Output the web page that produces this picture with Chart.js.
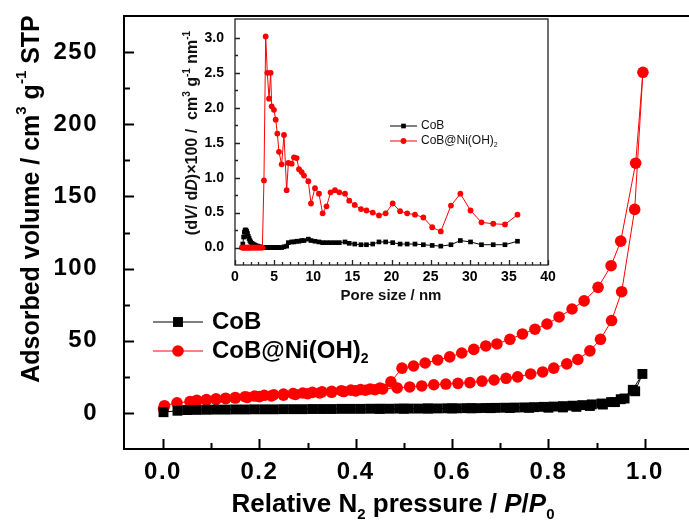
<!DOCTYPE html>
<html>
<head>
<meta charset="utf-8">
<script src="https://cdn.jsdelivr.net/npm/chart.js@4.4.1/dist/chart.umd.min.js"></script>
<style>
    html, body { margin: 0; padding: 0; background: #fff; overflow: hidden; }
    #wrap { position: relative; width: 689px; height: 524px; overflow: hidden; background: #fff; }
    #wrap canvas { position: absolute; left: 0; top: 0; }
</style>
</head>
<body>
<div id="wrap">
    <canvas id="mainChart" width="700" height="524"></canvas>
    <canvas id="insetChart" width="689" height="524"></canvas>
</div>
<script>
// Isotherm data - CoB (adsorption, then desorption)
const cobAdsP = [0.001, 0.03, 0.05, 0.07, 0.09, 0.11, 0.13, 0.15, 0.17, 0.19, 0.21, 0.23, 0.25, 0.27, 0.29,
    0.31, 0.33, 0.35, 0.37, 0.39, 0.41, 0.43, 0.45, 0.47, 0.49, 0.51, 0.53, 0.55, 0.57, 0.59, 0.61, 0.63,
    0.65, 0.67, 0.69, 0.71, 0.73, 0.75, 0.77, 0.79, 0.81, 0.83, 0.85, 0.87, 0.89, 0.91, 0.93, 0.95, 0.975, 0.995];
const cobAdsV = [0.5, 1.5, 2.0, 2.1, 2.2, 2.3, 2.3, 2.4, 2.4, 2.5, 2.5, 2.5, 2.6, 2.6, 2.6,
    2.7, 2.7, 2.7, 2.8, 2.8, 2.8, 2.9, 2.9, 2.9, 3.0, 3.0, 3.0, 3.1, 3.1, 3.2, 3.2, 3.3,
    3.3, 3.4, 3.5, 3.6, 3.7, 3.8, 4.0, 4.2, 4.4, 4.7, 5.0, 5.4, 5.9, 6.5, 7.5, 9.5, 16, 27];
const cobDesP = [0.98, 0.958, 0.938, 0.913, 0.886, 0.858, 0.83, 0.8, 0.76, 0.72, 0.68, 0.64, 0.6, 0.55, 0.5, 0.45];
const cobDesV = [15, 10, 7.5, 5.8, 4.8, 4.2, 3.8, 3.6, 3.5, 3.4, 3.3, 3.2, 3.1, 3.0, 2.9, 2.8];

// Isotherm data - CoB@Ni(OH)2
const nioAdsP = [0.001, 0.003, 0.029, 0.056, 0.07, 0.09, 0.11, 0.13, 0.15, 0.175, 0.2, 0.225, 0.25, 0.275,
    0.3, 0.325, 0.35, 0.375, 0.4, 0.42, 0.44, 0.456, 0.486, 0.512, 0.537, 0.562, 0.587, 0.612, 0.637, 0.662,
    0.687, 0.712, 0.736, 0.763, 0.788, 0.811, 0.838, 0.861, 0.886, 0.908, 0.931, 0.952, 0.979, 0.996];
const nioAdsV = [3, 5, 7, 7.8, 8.3, 8.8, 9.3, 9.8, 10.3, 10.8, 11.3, 11.8, 12.3, 12.8,
    13.3, 13.8, 14.3, 14.8, 15.3, 15.7, 16.1, 16.6, 17.3, 18, 18.7, 19.5, 20, 20.5, 21, 22,
    22.8, 24, 25, 27, 28.4, 31, 34, 37, 43, 51, 64, 84, 141, 236];
const nioDesP = [0.981, 0.95, 0.93, 0.903, 0.874, 0.849, 0.822, 0.797, 0.772, 0.746, 0.72, 0.693, 0.67, 0.645,
    0.62, 0.595, 0.57, 0.544, 0.52, 0.496, 0.473, 0.45, 0.43, 0.41, 0.39, 0.37, 0.35, 0.33, 0.31, 0.29,
    0.27, 0.25, 0.23, 0.21, 0.19, 0.17, 0.15, 0.13, 0.11, 0.09, 0.07];
const nioDesV = [173, 119, 102, 87, 77.6, 72, 66.5, 61.6, 58, 54.7, 51, 47.8, 46.4, 44,
    41.5, 38.8, 36.7, 34.6, 32.5, 31, 21.5, 17.2, 16.6, 16.2, 15.8, 15.4, 15, 14.6, 14.2, 13.8,
    13.4, 13, 12.6, 12.2, 11.7, 11.2, 10.7, 10.2, 9.7, 9.2, 8.7];

// Pore size distribution (inset)
const poreSize = [0.9, 1.0, 1.1, 1.2, 1.3, 1.4, 1.5, 1.6, 1.7, 1.8, 1.9, 2.0, 2.15, 2.3, 2.45, 2.6, 2.75, 2.9,
    3.05, 3.2, 3.35, 3.5, 3.7, 3.92, 4.13, 4.35, 4.56, 4.69, 4.98, 5.2, 5.41, 5.62, 5.96, 6.26, 6.6, 6.82,
    7.24, 7.54, 7.88, 8.18, 8.52, 8.82, 9.37, 9.71, 10.22, 10.73, 11.2, 11.7, 12.22, 12.78, 13.33, 14.06,
    14.6, 15.3, 16.1, 16.8, 17.6, 18.4, 19.25, 20.15, 21.1, 22.0, 23.0, 24.07, 25.2, 26.3, 27.6, 28.8,
    30.1, 31.5, 33.0, 34.5, 36.1];
const cobPsd = [0, 0.05, 0.15, 0.22, 0.25, 0.25, 0.23, 0.2, 0.16, 0.13, 0.1, 0.08, 0.06, 0.05, 0.04, 0.03, 0.02, 0.02,
    0.01, 0.01, 0, 0, 0, 0, 0, 0, 0, 0, 0, 0, 0, 0, 0, 0.01, 0.02, 0.07,
    0.08, 0.08, 0.09, 0.09, 0.1, 0.1, 0.12, 0.1, 0.09, 0.08, 0.07, 0.07, 0.07, 0.07, 0.07, 0.08,
    0.06, 0.05, 0.04, 0.04, 0.05, 0.08, 0.08, 0.07, 0.05, 0.05, 0.05, 0.04, 0.03, 0.02, 0.04, 0.10,
    0.08, 0.04, 0.04, 0.04, 0.09];
const nioPsd = [0, 0, 0, 0, 0, 0, 0, 0, 0, 0, 0, 0, 0, 0, 0, 0, 0, 0,
    0, 0, 0, 0, 0.96, 3.02, 2.5, 2.13, 2.5, 2.02, 1.97, 1.83, 1.63, 1.37, 1.19, 1.61, 0.82, 1.21,
    1.2, 1.29, 1.28, 1.12, 1.08, 1.03, 0.95, 0.63, 0.85, 0.77, 0.49, 0.59, 0.79, 0.82, 0.79, 0.77,
    0.67, 0.61, 0.55, 0.53, 0.50, 0.46, 0.49, 0.63, 0.52, 0.49, 0.47, 0.43, 0.29, 0.23, 0.60, 0.77,
    0.53, 0.36, 0.34, 0.33, 0.47];

// Ticks
const mainXTicks = [0, 0.2, 0.4, 0.6, 0.8, 1.0];
const mainXMinor = [0.1, 0.3, 0.5, 0.7, 0.9];
const mainYTicks = [0, 50, 100, 150, 200, 250];
const mainYMinor = [25, 75, 125, 175, 225];
const insetXTicks = [0, 5, 10, 15, 20, 25, 30, 35, 40];
const insetXMinor = [];
for (let i = 1; i < 40; i++) { if (i % 5 !== 0) insetXMinor.push(i); }
const insetYTicks = [0, 0.5, 1.0, 1.5, 2.0, 2.5, 3.0];
const insetYMinor = [0.25, 0.75, 1.25, 1.75, 2.25, 2.75];

const seriesLabels = ['CoB', 'CoB@Ni(OH)2'];
const FAMILY = '"Liberation Sans", Arial, Helvetica, sans-serif';
const RED = '#ff0000';

function zip(xs, ys) {
    return xs.map((x, i) => ({ x: x, y: ys[i] }));
}

function fontStr(p) {
    return (p.i ? 'italic ' : '') + (p.n ? '' : 'bold ') + p.s + 'px ' + FAMILY;
}

// Текст с индексами (верхними/нижними)
function drawRich(ctx, parts, x, y, align) {
    let w = 0;
    parts.forEach(p => { ctx.font = fontStr(p); w += ctx.measureText(p.t).width; });
    let cx = align === 'center' ? x - w / 2 : (align === 'right' ? x - w : x);
    ctx.textAlign = 'left';
    ctx.textBaseline = 'middle';
    parts.forEach(p => {
        ctx.font = fontStr(p);
        ctx.fillText(p.t, cx, y + (p.dy || 0));
        cx += ctx.measureText(p.t).width;
    });
}

function drawMarker(ctx, style, x, y, r, color) {
    ctx.fillStyle = color;
    ctx.beginPath();
    if (style === 'rect') {
        const h = r * Math.SQRT1_2;
        ctx.rect(x - h, y - h, 2 * h, 2 * h);
    } else {
        ctx.arc(x, y, r, 0, Math.PI * 2);
    }
    ctx.fill();
}

// Разрядка подписей делений
function spacingPlugin(px) {
    return {
        id: 'spacing',
        beforeDraw(chart) { chart.ctx.letterSpacing = px + 'px'; },
        afterDatasetsDraw(chart) { chart.ctx.letterSpacing = '0px'; }
    };
}

// Рамка и внутренние засечки
function frameTicksPlugin(cfg) {
    return {
        id: 'frameTicks',
        afterDraw(chart) {
            const { ctx, chartArea: a, scales: { x, y } } = chart;
            ctx.save();
            ctx.strokeStyle = cfg.color;
            ctx.lineWidth = cfg.width;
            ctx.strokeRect(a.left, a.top, a.right - a.left, a.bottom - a.top);
            ctx.beginPath();
            const xt = (v, len) => { const px = Math.round(x.getPixelForValue(v)) + 0.5; ctx.moveTo(px, a.bottom); ctx.lineTo(px, a.bottom - len); };
            const yt = (v, len) => { const py = Math.round(y.getPixelForValue(v)) + 0.5; ctx.moveTo(a.left, py); ctx.lineTo(a.left + len, py); };
            cfg.xMajor.forEach(v => xt(v, cfg.major));
            cfg.xMinor.forEach(v => xt(v, cfg.minor));
            cfg.yMajor.forEach(v => yt(v, cfg.major));
            cfg.yMinor.forEach(v => yt(v, cfg.minor));
            ctx.stroke();
            ctx.restore();
        }
    };
}

// Подписи осей и легенда
function decoPlugin(cfg) {
    return {
        id: 'deco',
        afterDraw(chart) {
            const ctx = chart.ctx;
            ctx.save();
            ctx.letterSpacing = '0px';
            ctx.fillStyle = cfg.textColor;
            drawRich(ctx, cfg.xTitle, cfg.xTitlePos[0], cfg.xTitlePos[1], 'center');
            ctx.save();
            ctx.translate(cfg.yTitlePos[0], cfg.yTitlePos[1]);
            ctx.rotate(-Math.PI / 2);
            drawRich(ctx, cfg.yTitle, 0, 0, 'center');
            ctx.restore();
            chart.data.datasets.forEach((ds, i) => {
                const ly = cfg.legend.y[i];
                ctx.strokeStyle = ds.borderColor;
                ctx.lineWidth = 1;
                ctx.beginPath();
                ctx.moveTo(cfg.legend.x0, ly);
                ctx.lineTo(cfg.legend.x1, ly);
                ctx.stroke();
                drawMarker(ctx, ds.pointStyle, (cfg.legend.x0 + cfg.legend.x1) / 2, ly, ds.pointRadius, ds.backgroundColor);
                ctx.fillStyle = cfg.textColor;
                drawRich(ctx, cfg.legend.texts[i], cfg.legend.tx, ly, 'left');
            });
            ctx.restore();
        }
    };
}

function axisCfg(min, max, ticks, size, pad, fmt, fitFn) {
    return {
        type: 'linear', min: min, max: max,
        grid: { display: false, drawTicks: false },
        border: { display: false },
        ticks: { font: { family: FAMILY, size: size, weight: 'bold' }, color: '#000', padding: pad, callback: fmt },
        afterBuildTicks: s => { s.ticks = ticks.map(v => ({ value: v })); },
        afterFit: s => { fitFn(s); s.paddingTop = 0; s.paddingBottom = 0; s.paddingLeft = 0; s.paddingRight = 0; }
    };
}

// Основной график (изотермы)
const mainChart = new Chart(document.getElementById('mainChart'), {
    type: 'scatter',
    data: {
        datasets: [{
            label: seriesLabels[0],
            data: zip(cobAdsP, cobAdsV).concat(zip(cobDesP, cobDesV)),
            showLine: true, borderColor: '#000', backgroundColor: '#000', borderWidth: 1,
            pointStyle: 'rect', pointRadius: 7, pointBorderWidth: 0, order: 0
        }, {
            label: seriesLabels[1],
            data: zip(nioAdsP, nioAdsV).concat(zip(nioDesP, nioDesV)),
            showLine: true, borderColor: RED, backgroundColor: RED, borderWidth: 1,
            pointStyle: 'circle', pointRadius: 5.8, pointBorderWidth: 0, order: 1
        }]
    },
    options: {
        responsive: false, animation: false, devicePixelRatio: 1,
        layout: { padding: { left: 0, top: 16, right: 7, bottom: 0 } },
        plugins: { legend: { display: false }, tooltip: { enabled: false } },
        scales: {
            x: axisCfg(-0.081, 1.1, mainXTicks, 24, 9, v => Number(v).toFixed(1), s => { s.height = 75; }),
            y: axisCfg(-25, 275, mainYTicks, 24, 26, v => String(v), s => { s.width = 124; })
        }
    },
    plugins: [
        spacingPlugin(1.5),
        frameTicksPlugin({ color: '#000', width: 2, major: 10, minor: 6,
            xMajor: mainXTicks, xMinor: mainXMinor, yMajor: mainYTicks, yMinor: mainYMinor }),
        decoPlugin({
            textColor: '#000',
            xTitle: [{ t: 'Relative N', s: 26 }, { t: '2', s: 15, dy: 10 }, { t: ' pressure / ', s: 26 },
                { t: 'P', s: 26, i: true }, { t: '/', s: 26 }, { t: 'P', s: 26, i: true }, { t: '0', s: 15, dy: 10 }],
            xTitlePos: [393, 505],
            yTitle: [{ t: 'Adsorbed volume / cm', s: 25 }, { t: '3', s: 15, dy: -10 }, { t: ' g', s: 25 },
                { t: '-1', s: 15, dy: -10 }, { t: ' STP', s: 25 }],
            yTitlePos: [32, 199],
            legend: {
                x0: 153, x1: 203, tx: 212, y: [322, 351],
                texts: [[{ t: 'CoB', s: 24 }], [{ t: 'CoB@Ni(OH)', s: 24 }, { t: '2', s: 14, dy: 8 }]]
            }
        })
    ]
});

// Вставка (распределение пор)
const insetChart = new Chart(document.getElementById('insetChart'), {
    type: 'scatter',
    data: {
        datasets: [{
            label: seriesLabels[0],
            data: zip(poreSize, cobPsd),
            showLine: true, borderColor: '#000', backgroundColor: '#000', borderWidth: 1,
            pointStyle: 'rect', pointRadius: 3.3, pointBorderWidth: 0, order: 1
        }, {
            label: seriesLabels[1],
            data: zip(poreSize, nioPsd),
            showLine: true, borderColor: RED, backgroundColor: RED, borderWidth: 1,
            pointStyle: 'circle', pointRadius: 2.9, pointBorderWidth: 0, order: 0
        }]
    },
    options: {
        responsive: false, animation: false, devicePixelRatio: 1,
        layout: { padding: { left: 0, top: 19, right: 141, bottom: 0 } },
        plugins: { legend: { display: false }, tooltip: { enabled: false } },
        scales: {
            x: axisCfg(0, 40, insetXTicks, 14, 4, v => String(v), s => { s.height = 259; }),
            y: axisCfg(-0.25, 3.27, insetYTicks, 14, 11, v => Number(v).toFixed(1), s => { s.width = 235; })
        }
    },
    plugins: [
        frameTicksPlugin({ color: '#222', width: 1.3, major: 5, minor: 3,
            xMajor: insetXTicks, xMinor: insetXMinor, yMajor: insetYTicks, yMinor: insetYMinor }),
        decoPlugin({
            textColor: '#111',
            xTitle: [{ t: 'Pore size / nm', s: 15 }],
            xTitlePos: [391, 296],
            yTitle: [{ t: '(d', s: 16 }, { t: 'V', s: 16, i: true }, { t: '/ d', s: 16 }, { t: 'D', s: 16, i: true },
                { t: ')×100 /  cm', s: 16 }, { t: '3', s: 10, dy: -6 }, { t: ' g', s: 16 }, { t: '-1', s: 10, dy: -6 },
                { t: ' nm', s: 16 }, { t: '-1', s: 10, dy: -6 }],
            yTitlePos: [193, 133],
            legend: {
                x0: 390, x1: 417, tx: 421, y: [126, 141],
                texts: [[{ t: 'CoB', s: 12, n: true }], [{ t: 'CoB@Ni(OH)', s: 12, n: true }, { t: '2', s: 7, n: true, dy: 4 }]]
            }
        })
    ]
});
</script>
</body>
</html>
